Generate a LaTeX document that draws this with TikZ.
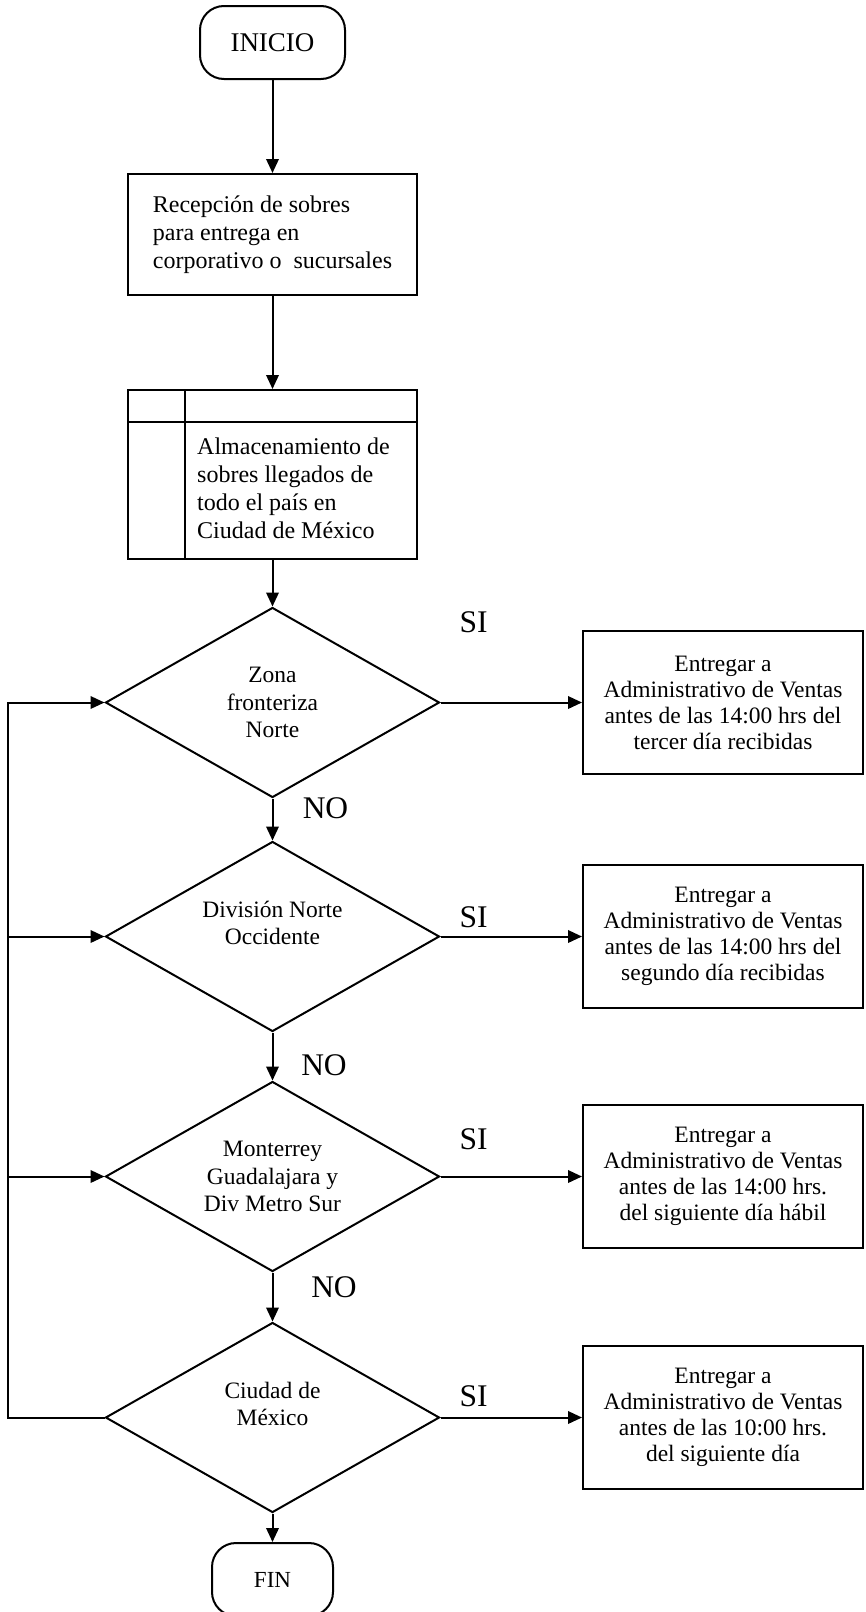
\documentclass[tikz,border=0pt]{standalone}
\usepackage{fontspec}
\setmainfont{Liberation Serif}
\usetikzlibrary{arrows.meta,shapes,positioning}

\newcommand{\fsz}[2]{\fontsize{#1pt}{#2pt}\selectfont}

\begin{document}
\begin{tikzpicture}[x=1pt,y=-1pt,->,>={Triangle[length=14pt,width=12.5pt]},
        line width=2pt,node distance=236pt,
        terminal/.style={draw,rounded corners=24pt,minimum width=145pt,minimum height=73pt,font=\fsz{27}{32}},
        process/.style={draw,align=left,minimum width=289pt,font=\fsz{24}{28}},
        decision/.style={draw,diamond,aspect=1.76,inner sep=0pt,minimum width=334pt,minimum height=190pt,align=center,font=\fsz{23.5}{27.5}},
        result/.style={draw,align=center,minimum width=280pt,minimum height=143pt,font=\fsz{23.5}{26}},
        answer/.style={font=\fsz{31.5}{36}}]
    \useasboundingbox (0,0) rectangle (865,1612);

    \node[terminal] (start) at (272.5,42.5) {INICIO};
    \node[process,minimum height=121pt] (recv) [below of=start, yshift=44pt] {Recepción de sobres\\para entrega en\\corporativo o\ \ sucursales};
    \node[process,minimum height=169pt] (store) [below of=recv, yshift=-4pt] {};
    \node[align=left,font=\fsz{24}{28}] (storetext) at ([xshift=21pt,yshift=-14pt]store.center) {Almacenamiento de\\sobres llegados de\\todo el país en\\Ciudad de México};
    \draw[-] ([yshift=-33pt]store.north west) -- ([yshift=-33pt]store.north east);
    \draw[-] ([xshift=58pt]store.north west) -- ([xshift=58pt]store.south west);

    % the four checks down the middle
    \node[decision] (d1) [below of=store, yshift=8pt] {Zona\\fronteriza\\Norte};
    \node[decision] (d2) [below of=d1, yshift=2pt] {División Norte\\Occidente\\~};
    \node[decision] (d3) [below of=d2, yshift=-4pt] {Monterrey\\Guadalajara y\\Div Metro Sur};
    \node[decision] (d4) [below of=d3, yshift=-5pt] {Ciudad de\\México\\~};
    \node[terminal,minimum width=121pt,font=\fsz{23}{27}] (fin) [below of=d4, yshift=74pt] {FIN};

    \node[result] (r1) [right of=d1, xshift=214.5pt] {Entregar a\\Administrativo de Ventas\\antes de las 14:00 hrs del\\tercer día recibidas};
    \node[result] (r2) [right of=d2, xshift=214.5pt] {Entregar a\\Administrativo de Ventas\\antes de las 14:00 hrs del\\segundo día recibidas};
    \node[result] (r3) [right of=d3, xshift=214.5pt] {Entregar a\\Administrativo de Ventas\\antes de las 14:00 hrs.\\del siguiente día hábil};
    \node[result] (r4) [right of=d4, xshift=214.5pt] {Entregar a\\Administrativo de Ventas\\antes de las 10:00 hrs.\\del siguiente día};

    \node[answer] (si1) at ([xshift=33pt,yshift=80pt]d1.east) {SI};
    \node[answer] (si2) at ([xshift=33pt,yshift=19.5pt]d2.east) {SI};
    \node[answer] (si3) at ([xshift=33pt,yshift=37.5pt]d3.east) {SI};
    \node[answer] (si4) at ([xshift=33pt,yshift=21.5pt]d4.east) {SI};
    \node[answer] (no1) at ([xshift=53pt,yshift=-9.5pt]d1.south) {NO};
    \node[answer] (no2) at ([xshift=51.5pt,yshift=-32.5pt]d2.south) {NO};
    \node[answer] (no3) at ([xshift=61.5pt,yshift=-14.5pt]d3.south) {NO};

    \path
    (start) edge (recv)
    (recv) edge (store)
    (store) edge (d1)
    (d1) edge (d2)
    (d2) edge (d3)
    (d3) edge (d4)
    (d4) edge (fin)
    (d1) edge (r1)
    (d2) edge (r2)
    (d3) edge (r3)
    (d4) edge (r4)
    ;

    % way back up on the left
    \coordinate (back) at ([xshift=-97pt]d4.west);
    \draw (d4.west) -- (back) |- (d1.west);
    \draw (back |- d2.west) -- (d2.west);
    \draw (back |- d3.west) -- (d3.west);
\end{tikzpicture}
\end{document}
